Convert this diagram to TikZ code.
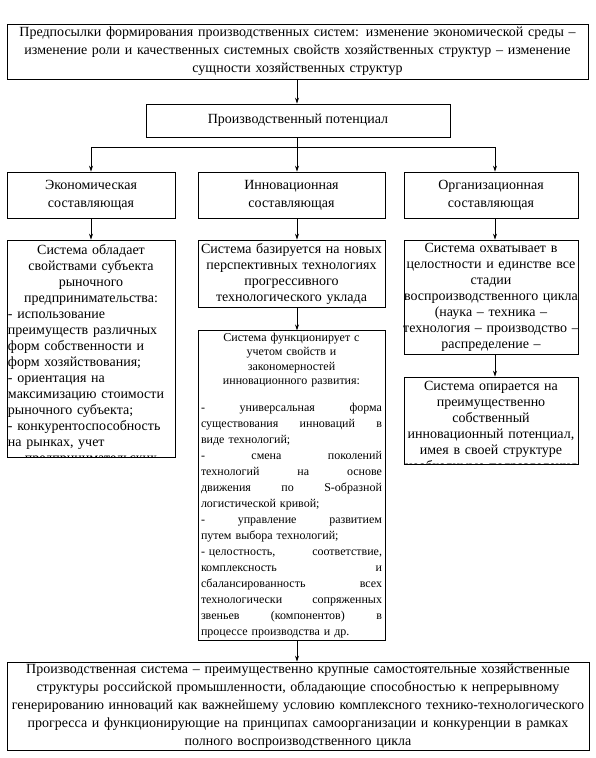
\documentclass[tikz,border=0pt]{standalone}
\usepackage{fontspec}
\setmainfont{Liberation Serif}
\usetikzlibrary{arrows.meta}
\tikzset{
  blockbox/.style={
    draw=black,line width=0.8pt,inner sep=1pt,align=center,
    font=\fontsize{14}{18}\selectfont
  },
  listbox/.style={
    draw=black,line width=0.8pt,inner sep=0pt,align=center,
    font=\fontsize{14}{16}\selectfont
  },
  smalllist/.style={
    draw=black,line width=0.8pt,inner sep=2pt,align=center,
    font=\fontsize{12}{16}\selectfont
  },
  cliptext/.style={
    anchor=north,inner sep=0pt,align=center,
    font=\fontsize{14}{16}\selectfont
  },
  linkarrow/.style={line width=0.8pt,-{Stealth[length=6pt,width=4pt]}},
}

\begin{document}
\begin{tikzpicture}[x=1pt,y=-1pt]
  \useasboundingbox (0,0) rectangle (595,758);
  \coordinate (trunk) at (297,0);
  \coordinate (orgtrunk) at (495,0);
  \coordinate (fork) at (297,147);
  \node[blockbox,minimum width=581pt,minimum height=55pt,text width=577pt] (prem) at (297.5,51.5)
    {Предпосылки формирования производственных систем: изменение экономической среды –\\
     изменение роли и качественных системных свойств хозяйственных структур – изменение\\
     сущности хозяйственных структур};
  \node[blockbox,minimum width=304pt,minimum height=33pt] (pot) at (298,120.5) {Производственный потенциал};
  \node[blockbox,minimum width=168pt,minimum height=46pt,text width=164pt] (eco) at (91,195) {Экономическая\\составляющая};
  \node[blockbox,minimum width=187pt,minimum height=46pt,text width=183pt] (inn) at (291.5,195) {Инновационная\\составляющая};
  \node[blockbox,minimum width=174pt,minimum height=46pt,text width=170pt] (org) at (491,195) {Организационная\\составляющая};
  % economic branch, text runs past the frame
  \node[listbox,minimum width=168pt,minimum height=217pt,
    path picture={
      \node[cliptext,text width=166pt] (econtxt) at ([yshift=-4pt]path picture bounding box.north)
        {Система обладает\\
         свойствами субъекта\\
         рыночного\\
         предпринимательства:\\
         - использование\hfill\mbox{}\\
         преимуществ различных\hfill\mbox{}\\
         форм собственности и\hfill\mbox{}\\
         форм хозяйствования;\hfill\mbox{}\\
         - ориентация на\hfill\mbox{}\\
         максимизацию стоимости\hfill\mbox{}\\
         рыночного субъекта;\hfill\mbox{}\\
         - конкурентоспособность\hfill\mbox{}\\
         на рынках, учет\hfill\mbox{}\\
         предпринимательских рисков\hfill\mbox{}};
    }] (econsys) at (91,348.5) {};
  % innovation branch
  \node[listbox,minimum width=187pt,minimum height=67pt,text width=185pt] (innbase) at (291.5,273.5)
    {Система базируется на новых\\
     перспективных технологиях\\
     прогрессивного\\
     технологического уклада};
  \node[smalllist,minimum width=187pt,minimum height=309pt,text width=181pt] (innfunc) at (291.5,485.5)
    {Система функционирует с\\[-1.5pt]
     учетом свойств и\\[-1.5pt]
     закономерностей\\[-1.5pt]
     инновационного развития:\\[11pt]
     -\hfill универсальная\hfill форма\\
     существования\hfill инноваций\hfill в\\
     виде технологий;\hfill\mbox{}\\
     -\hfill смена\hfill поколений\\
     технологий\hfill на\hfill основе\\
     движения\hfill по\hfill S-образной\\
     логистической кривой;\hfill\mbox{}\\
     -\hfill управление\hfill развитием\\
     путем выбора технологий;\hfill\mbox{}\\
     - целостность,\hfill соответствие,\\
     комплексность\hfill и\\
     сбалансированность\hfill всех\\
     технологически\hfill сопряженных\\
     звеньев\hfill (компонентов)\hfill в\\
     процессе производства и др.\hfill\mbox{}};
  % organisational branch
  \node[listbox,minimum width=174pt,minimum height=114pt,text width=174pt] (orgcycle) at (491,297)
    {Система охватывает в\\
     целостности и единстве все\\
     стадии\\
     \makebox[174pt]{воспроизводственного цикла}\\
     (наука – техника –\\
     \makebox[174pt]{технология – производство –}\\
     распределение –};
  \node[listbox,minimum width=174pt,minimum height=87pt,
    path picture={
      \node[cliptext,text width=174pt] (owntxt) at ([yshift=-4pt]path picture bounding box.north)
        {Система опирается на\\
         преимущественно\\
         собственный\\
         инновационный потенциал,\\
         имея в своей структуре\\
         необходимые подразделения};
    }] (orgown) at (491,420.5) {};
  \node[blockbox,minimum width=582pt,minimum height=88pt,text width=578pt] (prodsys) at (298,706)
    {Производственная система – преимущественно крупные самостоятельные хозяйственные\\
     структуры российской промышленности, обладающие способностью к непрерывному\\
     генерированию инноваций как важнейшему условию комплексного технико-технологического\\
     прогресса и функционирующие на принципах самоорганизации и конкуренции в рамках\\
     полного воспроизводственного цикла};
  % connectors
  \draw[linkarrow] (prem.south -| trunk) -- (pot.north -| trunk);
  \draw[line width=0.8pt] (pot.south -| trunk) -- (fork);
  \draw[line width=0.8pt] (eco.north |- fork) -- (fork -| orgtrunk);
  \draw[linkarrow] (eco.north |- fork) -- (eco.north);
  \draw[linkarrow] (fork) -- (inn.north -| trunk);
  \draw[linkarrow] (fork -| orgtrunk) -- (org.north -| orgtrunk);
  \draw[linkarrow] (eco.south) -- (econsys.north);
  \draw[linkarrow] (inn.south -| trunk) -- (innbase.north -| trunk);
  \draw[linkarrow] (innbase.south -| trunk) -- (innfunc.north -| trunk);
  \draw[linkarrow] (innfunc.south -| trunk) -- (prodsys.north -| trunk);
  \draw[linkarrow] (org.south -| orgtrunk) -- (orgcycle.north -| orgtrunk);
  \draw[linkarrow] (orgcycle.south -| orgtrunk) -- (orgown.north -| orgtrunk);
\end{tikzpicture}
\end{document}
